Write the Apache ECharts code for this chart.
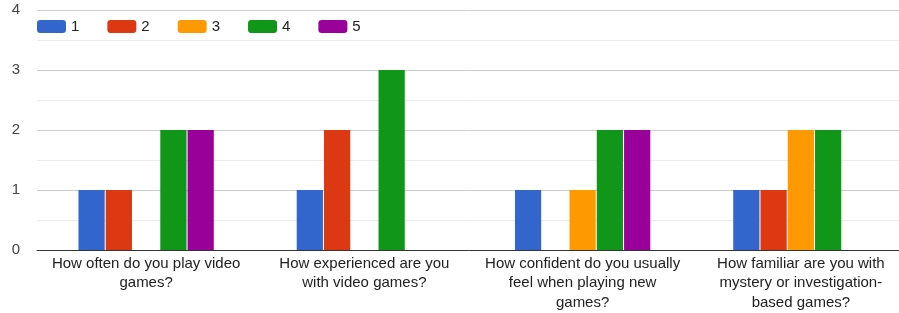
<!DOCTYPE html>
<html>
<head>
<meta charset="utf-8">
<script src="https://cdn.jsdelivr.net/npm/echarts@6/dist/echarts.min.js"></script>
<style>
  html, body { margin: 0; padding: 0; background: #fff; }
  #chart { width: 899px; height: 313px; }
</style>
</head>
<body>
<div id="chart"></div>
<script>
// questions (line breaks as wrapped in the original)
const questions = [
  "How often do you play video\ngames?",
  "How experienced are you\nwith video games?",
  "How confident do you usually\nfeel when playing new\ngames?",
  "How familiar are you with\nmystery or investigation-\nbased games?"
];
const seriesNames = ["1", "2", "3", "4", "5"];
const colors = ["#3366cc", "#dc3912", "#ff9900", "#109618", "#990099"];
// counts per rating, one array per rating
const rating1 = [1, 1, 1, 1];
const rating2 = [1, 2, 0, 1];
const rating3 = [0, 0, 1, 2];
const rating4 = [2, 3, 2, 2];
const rating5 = [2, 0, 2, 0];
const yTicks = [0, 4, 1];

const values = [rating1, rating2, rating3, rating4, rating5];
const FONT = "Liberation Sans, Arial, sans-serif";

let chart = echarts.init(document.getElementById("chart"));
chart.setOption({
  animation: false,
  color: colors,
  textStyle: { fontFamily: FONT },
  grid: { left: 37, right: -11, top: 10, bottom: 63, containLabel: false, outerBoundsMode: "none" },
  legend: {
    left: 37,
    top: 19,
    padding: 0,
    itemWidth: 29,
    itemHeight: 13,
    itemGap: 28,
    icon: "roundRect",
    textStyle: { fontSize: 15, color: "#222", fontFamily: FONT },
    data: seriesNames
  },
  xAxis: {
    type: "category",
    data: questions,
    axisLine: { lineStyle: { color: "#333", width: 1 } },
    axisTick: { show: false },
    axisLabel: {
      interval: 0,
      fontSize: 15,
      color: "#222",
      lineHeight: 19.5,
      margin: 4,
      fontFamily: FONT
    }
  },
  yAxis: {
    type: "value",
    min: yTicks[0],
    max: yTicks[1],
    interval: yTicks[2],
    axisLine: { show: false },
    axisTick: { show: false },
    axisLabel: { fontSize: 15, color: "#444", margin: 17, fontFamily: FONT },
    splitLine: { lineStyle: { color: "#cccccc" } },
    minorTick: { show: false, splitNumber: 2 },
    minorSplitLine: { show: true, lineStyle: { color: "#ebebeb" } }
  },
  series: seriesNames.map((name, i) => ({
    name: name,
    type: "bar",
    data: values[i],
    barGap: "4%",
    barCategoryGap: "38%",
    itemStyle: { borderColor: "#fff", borderWidth: 0 }
  }))
});
</script>
</body>
</html>
